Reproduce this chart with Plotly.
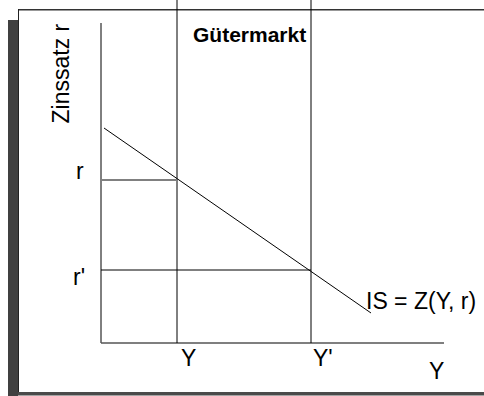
import plotly.graph_objects as go

# ---- data (economic coordinates, arbitrary units) ----
Y_vals = [7.6, 21.0]          # Y, Y'
Y_labels = ["Y", "Y'"]
r_vals = [16.3, 7.3]          # r, r'
r_labels = ["r", "r'"]
IS_x = [0.3, 27.0]
IS_r = [21.5, 3.0]
x_axis_end = 34.3
y_axis_end = 32.0
x_range = [-10.1, 38.3]
y_range = [-5.3, 34.3]

FONT = "Arial, 'Liberation Sans', sans-serif"
W, H = 484, 396
FS = 23

fig = go.Figure()

def line(x, y, color="black", width=1):
    fig.add_trace(go.Scatter(x=x, y=y, mode="lines", hoverinfo="skip",
                             line=dict(color=color, width=width), showlegend=False,
                             cliponaxis=False))

# axes
line([0, 0], [0, y_axis_end], "black", 1)
line([0, x_axis_end], [0, 0], "#555555", 1.5)
# vertical lines at Y and Y'
for yv in Y_vals:
    line([yv, yv], [0, y_range[1]], "black", 1)
# horizontal lines r (gray) and r' (black)
line([0, Y_vals[0]], [r_vals[0], r_vals[0]], "#808080", 2)
line([0, Y_vals[1]], [r_vals[1], r_vals[1]], "black", 1)
# IS curve
line(IS_x, IS_r, "black", 1)

def px(x): return x / W
def py(y): return 1 - y / H

shapes = [
    # shadow bar
    dict(type="rect", xref="paper", yref="paper", x0=px(8), x1=px(18), y0=py(396), y1=py(20),
         fillcolor="#404040", line=dict(width=0), layer="below"),
    # top frame line
    dict(type="line", xref="paper", yref="paper", x0=px(18), x1=px(484), y0=py(9.7), y1=py(9.7),
         line=dict(color="#333333", width=1.5), layer="below"),
    # left frame line
    dict(type="line", xref="paper", yref="paper", x0=px(18.5), x1=px(18.5), y0=py(9), y1=py(393),
         line=dict(color="#222222", width=1), layer="below"),
    # bottom frame bar
    dict(type="rect", xref="paper", yref="paper", x0=px(18), x1=px(484), y0=py(395.5), y1=py(392),
         fillcolor="#4a4a4a", line=dict(width=0), layer="below"),
]

ann = []
# Y labels
for yv, lab, xs in zip(Y_vals, Y_labels, [11, 12]):
    ann.append(dict(x=yv, y=0, xref="x", yref="y", text=lab, showarrow=False,
                    xanchor="center", yanchor="middle", xshift=xs, yshift=-15,
                    font=dict(family=FONT, size=FS, color="black")))
# r labels
for rv, lab, xs, ys in zip(r_vals, r_labels, [-21, -22], [9, -7]):
    ann.append(dict(x=0, y=rv, xref="x", yref="y", text=lab, showarrow=False,
                    xanchor="center", yanchor="middle", xshift=xs, yshift=ys,
                    font=dict(family=FONT, size=FS, color="black")))
# IS label
ann.append(dict(x=IS_x[1], y=IS_r[1], xref="x", yref="y", text="IS = Z(Y, r)", showarrow=False,
                xanchor="left", yanchor="middle", xshift=-7, yshift=12,
                font=dict(family=FONT, size=FS, color="black")))
# axis titles
ann.append(dict(x=px(61), y=py(73.5), xref="paper", yref="paper", text="Zinssatz r", showarrow=False,
                textangle=-90, xanchor="center", yanchor="middle",
                font=dict(family=FONT, size=FS, color="black")))
ann.append(dict(x=px(436.5), y=py(370.5), xref="paper", yref="paper", text="Y", showarrow=False,
                xanchor="center", yanchor="middle",
                font=dict(family=FONT, size=FS, color="black")))
ann.append(dict(x=px(249.5), y=py(34), xref="paper", yref="paper", text="<b>Gütermarkt</b>",
                showarrow=False, xanchor="center", yanchor="middle",
                font=dict(family=FONT, size=21, color="black")))

fig.update_layout(
    width=W, height=H, margin=dict(l=0, r=0, t=0, b=0),
    paper_bgcolor="white", plot_bgcolor="rgba(0,0,0,0)",
    xaxis=dict(range=x_range, visible=False, fixedrange=True),
    yaxis=dict(range=y_range, visible=False, fixedrange=True),
    shapes=shapes, annotations=ann, showlegend=False,
)

fig.write_html("out.html", config={"displayModeBar": False},
               post_script="document.body.style.margin='0px';document.body.style.overflow='hidden';")
